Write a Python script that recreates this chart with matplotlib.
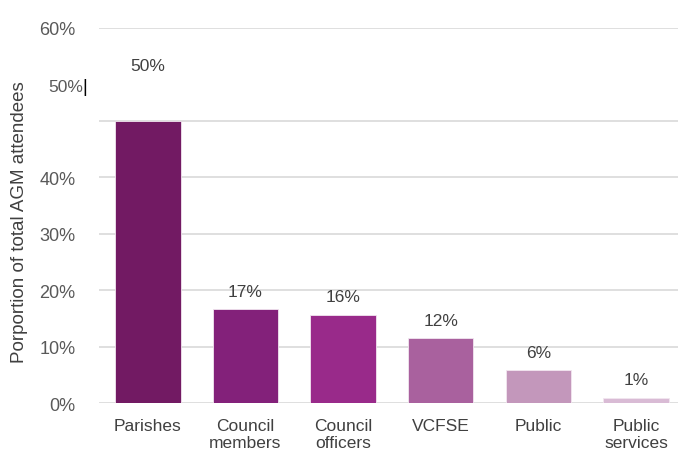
import matplotlib.pyplot as plt

plt.rcParams['font.family'] = ['Liberation Sans', 'DejaVu Sans']

categories = ["Parishes", "Council\nmembers", "Council\nofficers", "VCFSE", "Public", "Public\nservices"]
values = [0.499, 0.166, 0.156, 0.115, 0.058, 0.009]
labels = ["50%", "17%", "16%", "12%", "6%", "1%"]
colors = ["#721a63", "#83217a", "#992a8a", "#a9619e", "#c397bb", "#d9bbd5"]

fig = plt.figure(figsize=(6.78, 4.52), dpi=100)
ax = fig.add_axes([0.146, 0.106, 0.854, 0.830])

x = range(len(categories))
ax.bar(x, values, width=0.67, color=colors, edgecolor="#f2e6f0", linewidth=0.6, zorder=3)

# value labels (the first one sits higher, as in the original)
for i, (v, lab) in enumerate(zip(values, labels)):
    off = 40 if i == 0 else 13
    ax.annotate(lab, (i, v), xytext=(0, off), textcoords="offset points",
                ha="center", va="center", fontsize=12.5, color="#404040")

ax.set_xlim(-0.5, 5.43)
ax.set_ylim(0, 0.664)

# gridlines: regular 10% steps plus one at the top
grid_vals = [0, 0.1, 0.2, 0.3, 0.4, 0.5, 0.664]
grid_labels = ["0%", "10%", "20%", "30%", "40%", "", "60%"]
ax.set_yticks(grid_vals)
ax.set_yticklabels(grid_labels)
for g in grid_vals:
    ax.axhline(g, color="#dcdcdc", linewidth=1.3, zorder=1)

# stray "50%" label with a text cursor
ax.text(-0.027, 0.56, "50%", transform=ax.get_yaxis_transform(), ha="right", va="center",
        fontsize=12.5, color="#595959")
ax.text(-0.021, 0.56, "|", transform=ax.get_yaxis_transform(), ha="right", va="center",
        fontsize=13, color="black", fontweight="light")

ax.set_xticks(list(x))
ax.set_xticklabels(categories, fontsize=12.5, color="#404040", va="top", linespacing=1.15)
ax.tick_params(axis="y", labelsize=13, labelcolor="#595959", length=0, pad=17)
ax.tick_params(axis="x", length=0, pad=11)

for s in ax.spines.values():
    s.set_visible(False)

ax.set_ylabel("Porportion of total AGM attendees", fontsize=13.5, color="#404040")
ax.yaxis.set_label_coords(-0.122, 0.485)

fig.savefig("out.png", dpi=100)
